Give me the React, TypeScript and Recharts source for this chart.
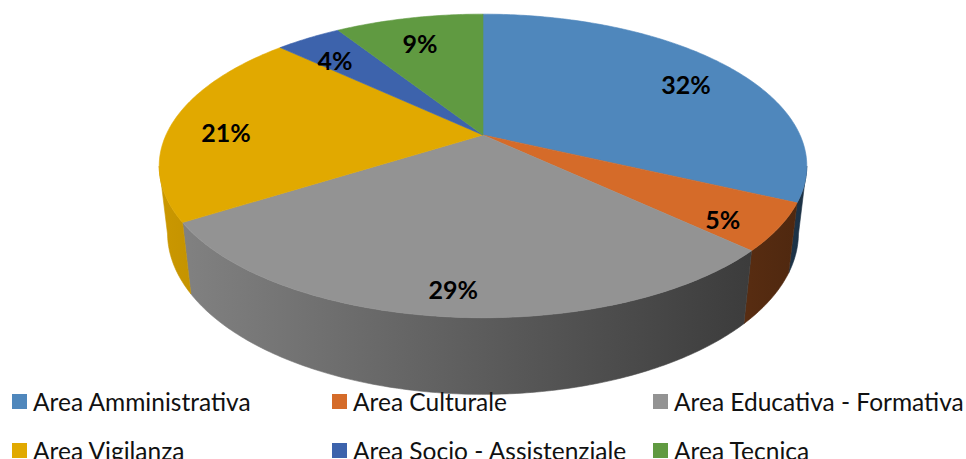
import React from 'react';
import { PieChart, Pie, Cell, Legend } from 'recharts';

// ---- data ----
const categories = [
  'Area Amministrativa',
  'Area Culturale',
  'Area Educativa - Formativa',
  'Area Vigilanza',
  'Area Socio - Assistenziale',
  'Area Tecnica',
];
const shares = [32, 5, 29, 21, 4, 9];
const colors = ['#4F87BC', '#D56B29', '#939393', '#E1A900', '#3D63AC', '#609A41'];

const data = categories.map((name, i) => ({ name, value: shares[i] }));

// ---- 3D perspective projection of the pie disk ----
const VIEW_D = 4.357;
const TILT_COS = 0.888;
const TILT_SIN = 0.459;
const THICK = 0.24;
const FRONT_HI = -11.8;
const FRONT_LO = -168.2;

function proj(cx: number, cy: number, r: number, deg: number, rf: number, h: number): [number, number] {
  const a = (deg * Math.PI) / 180;
  const x = rf * Math.cos(a);
  const z = rf * Math.sin(a);
  const depth = VIEW_D + z * TILT_COS - h * TILT_SIN;
  return [cx + (r * VIEW_D * x) / depth, cy - (r * VIEW_D * (z * TILT_SIN + h * TILT_COS)) / depth];
}

function arc(cx: number, cy: number, r: number, a0: number, a1: number, h: number) {
  const n = Math.max(2, Math.ceil(Math.abs(a1 - a0) / 0.75) + 1);
  const pts: [number, number][] = [];
  for (let i = 0; i < n; i++) {
    const a = a0 + ((a1 - a0) * i) / (n - 1);
    pts.push(proj(cx, cy, r, a, 1, h));
  }
  return pts;
}

function shade(hex: string, f: number) {
  const n = parseInt(hex.slice(1), 16);
  const r = Math.round(((n >> 16) & 255) * f);
  const g = Math.round(((n >> 8) & 255) * f);
  const b = Math.round((n & 255) * f);
  return `rgb(${r},${g},${b})`;
}

const TopSlice = (props: any) => {
  const { cx, cy, outerRadius, startAngle, endAngle, fill } = props;
  const pts = arc(cx, cy, outerRadius, startAngle, endAngle, 0);
  const d = `M${cx},${cy}` + pts.map((p) => `L${p[0].toFixed(2)},${p[1].toFixed(2)}`).join('') + 'Z';
  return <path d={d} fill={fill} stroke={fill} strokeWidth={0.6} />;
};

const WallSlice = (props: any) => {
  const { cx, cy, outerRadius, startAngle, endAngle, fill } = props;
  const hi = Math.min(startAngle, FRONT_HI);
  const lo = Math.max(endAngle, FRONT_LO);
  if (lo >= hi) return <g />;
  const top = arc(cx, cy, outerRadius, hi, lo, 0);
  const bottom = arc(cx, cy, outerRadius, lo, hi, -THICK);
  const all = top.concat(bottom);
  const d = 'M' + all.map((p) => `${p[0].toFixed(2)},${p[1].toFixed(2)}`).join('L') + 'Z';
  const id = 'wall' + String(fill).replace('#', '');
  return (
    <g>
      <defs>
        <linearGradient id={id} gradientUnits="userSpaceOnUse" x1={cx - 325} y1={0} x2={cx + 325} y2={0}>
          <stop offset="0%" stopColor={shade(fill, 0.9)} />
          <stop offset="55%" stopColor={shade(fill, 0.6)} />
          <stop offset="100%" stopColor={shade(fill, 0.36)} />
        </linearGradient>
      </defs>
      <path d={d} fill={`url(#${id})`} stroke={`url(#${id})`} strokeWidth={0.6} />
    </g>
  );
};

const renderLabel = (props: any) => {
  const { cx, cy, outerRadius, midAngle, percent } = props;
  const [x, y] = proj(cx, cy, outerRadius, midAngle, 0.83, -0.03);
  return (
    <text
      x={x}
      y={y}
      textAnchor="middle"
      dominantBaseline="central"
      fontFamily="Lato, 'Liberation Sans', sans-serif"
      fontWeight={700}
      fontSize={25}
      fill="#000"
    >
      {`${Math.round(percent * 100)}%`}
    </text>
  );
};

const legendCols = [12, 332, 653];
const legendRows = [6, 55];

const LegendContent = (props: any) => {
  const raw = props.payload || [];
  const seen = new Set<string>();
  const payload = raw
    .filter((p: any) => {
      if (p.type === 'none' || seen.has(p.value)) return false;
      seen.add(p.value);
      return true;
    })
    .sort((a: any, b: any) => categories.indexOf(a.value) - categories.indexOf(b.value));
  return (
    <div style={{ position: 'relative', width: 966, height: 80 }}>
      {payload.map((p: any, i: number) => (
        <div
          key={i}
          style={{
            position: 'absolute',
            left: legendCols[i % 3],
            top: legendRows[Math.floor(i / 3)],
            height: 30,
            display: 'flex',
            alignItems: 'center',
            whiteSpace: 'nowrap',
          }}
        >
          <span style={{ display: 'inline-block', width: 15, height: 15, background: p.color, marginRight: 6 }} />
          <span style={{ fontFamily: "Lato, 'Liberation Sans', sans-serif", fontSize: 24.5, color: '#111' }}>{p.value}</span>
        </div>
      ))}
    </div>
  );
};

export default function App() {
  return (
    <div style={{ position: 'absolute', left: 0, top: 0, width: 966, height: 459, background: '#fff' }}>
      <PieChart width={966} height={459} margin={{ top: 0, right: 0, bottom: 0, left: 0 }}>
        <Pie
          data={data}
          dataKey="value"
          nameKey="name"
          cx={483}
          cy={135}
          outerRadius={317}
          startAngle={90}
          endAngle={-270}
          isAnimationActive={false}
          legendType="none"
          shape={WallSlice}
          activeShape={WallSlice}
          inactiveShape={WallSlice}
          stroke="none"
        >
          {data.map((d, i) => (
            <Cell key={d.name} fill={colors[i]} />
          ))}
        </Pie>
        <Pie
          data={data}
          dataKey="value"
          nameKey="name"
          cx={483}
          cy={135}
          outerRadius={317}
          startAngle={90}
          endAngle={-270}
          isAnimationActive={false}
          legendType="square"
          shape={TopSlice}
          activeShape={TopSlice}
          inactiveShape={TopSlice}
          label={renderLabel}
          labelLine={false}
          stroke="none"
        >
          {data.map((d, i) => (
            <Cell key={d.name} fill={colors[i]} />
          ))}
        </Pie>
        <Legend
          verticalAlign="bottom"
          content={LegendContent}
          itemSorter={null as any}
          wrapperStyle={{ left: 0, top: 380, bottom: 'auto', width: 966 }}
        />
      </PieChart>
    </div>
  );
}
